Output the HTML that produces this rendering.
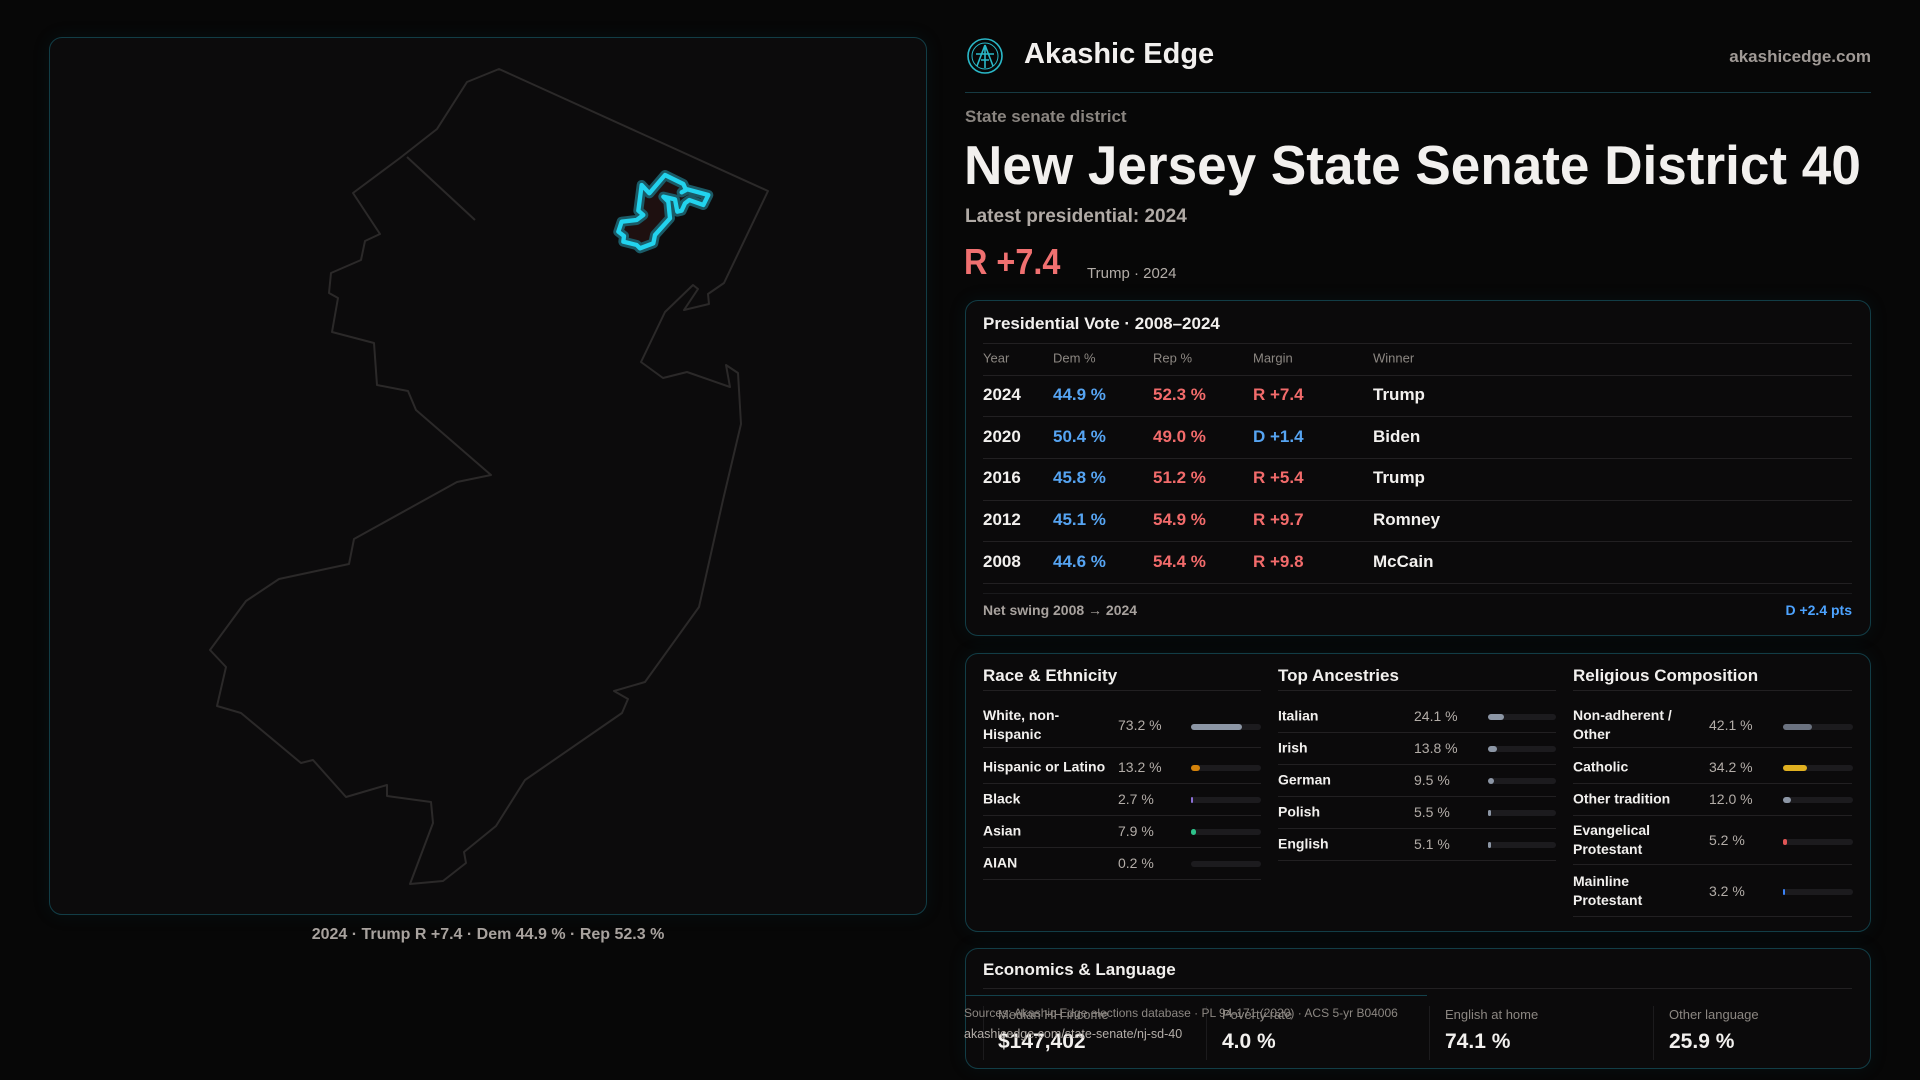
<!DOCTYPE html>
<html><head><meta charset="utf-8"><style>
*{margin:0;padding:0;box-sizing:border-box}
body{width:1920px;height:1080px;background:#070707;font-family:"Liberation Sans",sans-serif;color:#f2f0ee;position:relative;overflow:hidden}
.a{position:absolute;white-space:nowrap}
.card{position:absolute;border:1px solid #123d46;border-radius:13px;background:#0b0a0b;box-shadow:0 0 18px rgba(20,90,110,0.12)}
.hl{position:absolute;height:1px;background:#222022}
.t{font-size:17px;font-weight:bold;transform:translateY(-50%)}
.h{font-size:13px;color:#8c8782;transform:translateY(-50%)}
.r{font-size:17px;font-weight:bold;transform:translateY(-50%)}
.blue{color:#56a4f2}.red{color:#f26b6b}
.lab{font-size:14px;font-weight:bold;color:#f2f0ee;line-height:19px;transform:translateY(-50%)}
.val{font-size:14px;color:#b3ada8;transform:translateY(-50%)}
.trk{position:absolute;height:6px;border-radius:3px;background:#1c1b1e;transform:translateY(-50%)}
.trk i{position:absolute;left:0;top:0;height:6px;border-radius:3px}
</style></head><body>

<div class="card" style="left:49px;top:37px;width:878px;height:878px;background:#0c0b0c"></div>
<svg class="a" style="left:0;top:0" width="1920" height="1080" viewBox="0 0 1920 1080">
<polygon fill="none" stroke="#2b2929" stroke-width="2" stroke-linejoin="round" points="499,69 467,82 437,129 400,158 353,193 380,234 365,241 361,260 331,273 329,293 338,298 332,332 374,343 377,385 408,391 416,410 491,475 457,482 354,539 349,564 279,579 246,601 210,650 226,667 217,706 241,713 301,763 313,760 346,797 387,785 387,796 431,802 433,823 410,884 443,881 466,863 464,852 496,826 525,780 622,713 628,699 614,691 645,682 699,607 723,500 741,424 738,373 726,365 730,387 687,372 663,378 641,362 665,312 693,285 698,289 684,310 709,304 708,294 724,283 768,191"/>
<line x1="407" y1="157" x2="475" y2="220" stroke="#2b2929" stroke-width="2"/>
<g transform="translate(600,150) scale(0.3333)">
<polygon fill="#1e1010" stroke="#1b5a66" stroke-width="30" stroke-linejoin="round" points="195,75 250,102 258,120 245,127 262,118 325,135 310,165 268,150 255,160 245,182 232,185 225,148 190,140 205,155 210,205 165,255 160,280 120,295 110,285 70,275 72,258 55,245 65,215 110,210 130,195 115,182 125,105 148,130"/>
<polygon fill="none" stroke="#22d3ee" stroke-width="13" stroke-linejoin="round" points="195,75 250,102 258,120 245,127 262,118 325,135 310,165 268,150 255,160 245,182 232,185 225,148 190,140 205,155 210,205 165,255 160,280 120,295 110,285 70,275 72,258 55,245 65,215 110,210 130,195 115,182 125,105 148,130"/>
</g>
<g transform="translate(985,56)" fill="none" stroke="#2ab8c8" stroke-width="1.6">
<circle r="17"/><circle r="13" stroke-width="1"/><path d="M0,-11 L-8,10 M0,-11 L8,10 M-9,-2 L9,-2 M0,-11 L0,12 M-4,4 L4,4"/>
</g>
</svg>
<div class="a" style="left:0;width:976px;top:926px;text-align:center;font-size:16px;font-weight:bold;color:#a8a29e">2024 · Trump R +7.4 · Dem 44.9 % · Rep 52.3 %</div>

<div class="a" style="left:1024px;top:38px;font-size:29px;font-weight:bold">Akashic Edge</div>
<div class="a" style="right:49px;top:47px;font-size:17px;font-weight:bold;color:#a09a96">akashicedge.com</div>
<div class="hl" style="left:965px;width:906px;top:92px;background:#163a42"></div>
<div class="a" style="left:965px;top:107px;font-size:17px;font-weight:bold;color:#8a8580">State senate district</div>
<div class="a" style="left:964px;top:133px;font-size:55px;font-weight:bold;transform:scaleX(0.965);transform-origin:left top">New Jersey State Senate District 40</div>
<div class="a" style="left:965px;top:206px;font-size:19px;font-weight:bold;color:#b0aaa5">Latest presidential: 2024</div>
<div class="a" style="left:964px;top:241px;font-size:36px;font-weight:bold;color:#f07070;transform:scaleX(0.9);transform-origin:left top">R +7.4</div>
<div class="a" style="left:1087px;top:265px;font-size:15px;color:#b3ada8">Trump · 2024</div>

<div class="card" style="left:965px;top:300px;width:906px;height:336px"></div>
<div class="a t" style="left:983px;top:324px">Presidential Vote · 2008–2024</div>
<div class="hl" style="left:983px;width:869px;top:343px"></div>
<div class="a h" style="left:983px;top:358px">Year</div><div class="a h" style="left:1053px;top:358px">Dem %</div><div class="a h" style="left:1153px;top:358px">Rep %</div><div class="a h" style="left:1253px;top:358px">Margin</div><div class="a h" style="left:1373px;top:358px">Winner</div>
<div class="hl" style="left:983px;width:869px;top:375px"></div>
<div class="a r" style="left:983px;top:395px">2024</div><div class="a r blue" style="left:1053px;top:395px">44.9 %</div><div class="a r red" style="left:1153px;top:395px">52.3 %</div><div class="a r red" style="left:1253px;top:395px">R +7.4</div><div class="a r" style="left:1373px;top:395px">Trump</div>
<div class="hl" style="left:983px;width:869px;top:416px"></div>
<div class="a r" style="left:983px;top:437px">2020</div><div class="a r blue" style="left:1053px;top:437px">50.4 %</div><div class="a r red" style="left:1153px;top:437px">49.0 %</div><div class="a r blue" style="left:1253px;top:437px">D +1.4</div><div class="a r" style="left:1373px;top:437px">Biden</div>
<div class="hl" style="left:983px;width:869px;top:458px"></div>
<div class="a r" style="left:983px;top:478px">2016</div><div class="a r blue" style="left:1053px;top:478px">45.8 %</div><div class="a r red" style="left:1153px;top:478px">51.2 %</div><div class="a r red" style="left:1253px;top:478px">R +5.4</div><div class="a r" style="left:1373px;top:478px">Trump</div>
<div class="hl" style="left:983px;width:869px;top:500px"></div>
<div class="a r" style="left:983px;top:520px">2012</div><div class="a r blue" style="left:1053px;top:520px">45.1 %</div><div class="a r red" style="left:1153px;top:520px">54.9 %</div><div class="a r red" style="left:1253px;top:520px">R +9.7</div><div class="a r" style="left:1373px;top:520px">Romney</div>
<div class="hl" style="left:983px;width:869px;top:541px"></div>
<div class="a r" style="left:983px;top:562px">2008</div><div class="a r blue" style="left:1053px;top:562px">44.6 %</div><div class="a r red" style="left:1153px;top:562px">54.4 %</div><div class="a r red" style="left:1253px;top:562px">R +9.8</div><div class="a r" style="left:1373px;top:562px">McCain</div>
<div class="hl" style="left:983px;width:869px;top:583px"></div>
<div class="hl" style="left:983px;width:869px;top:593px;background:#1a1a1c"></div>
<div class="a" style="left:983px;top:602px;font-size:14px;font-weight:bold;color:#a8a29e">Net swing 2008 → 2024</div>
<div class="a" style="right:68px;top:602px;font-size:14px;font-weight:bold;color:#4da3ff">D +2.4 pts</div>

<div class="card" style="left:965px;top:653px;width:906px;height:279px"></div>
<div class="a t" style="left:983px;top:676px">Race &amp; Ethnicity</div>
<div class="a t" style="left:1278px;top:676px">Top Ancestries</div>
<div class="a t" style="left:1573px;top:676px">Religious Composition</div>
<div class="hl" style="left:983px;width:278px;top:690px"></div>
<div class="hl" style="left:1278px;width:278px;top:690px"></div>
<div class="hl" style="left:1573px;width:279px;top:690px"></div>

<div class="a lab" style="left:983px;top:725px">White, non-<br>Hispanic</div><div class="a val" style="left:1118px;top:725px">73.2 %</div><div class="trk" style="left:1191px;width:70px;top:727px"><i style="width:51px;background:#8c96a5"></i></div>
<div class="hl" style="left:983px;width:278px;top:747px"></div>
<div class="a lab" style="left:983px;top:767px">Hispanic or Latino</div><div class="a val" style="left:1118px;top:767px">13.2 %</div><div class="trk" style="left:1191px;width:70px;top:768px"><i style="width:9px;background:#d4820a"></i></div>
<div class="hl" style="left:983px;width:278px;top:783px"></div>
<div class="a lab" style="left:983px;top:799px">Black</div><div class="a val" style="left:1118px;top:799px">2.7 %</div><div class="trk" style="left:1191px;width:70px;top:800px"><i style="width:2px;background:#8b6fd6"></i></div>
<div class="hl" style="left:983px;width:278px;top:815px"></div>
<div class="a lab" style="left:983px;top:831px">Asian</div><div class="a val" style="left:1118px;top:831px">7.9 %</div><div class="trk" style="left:1191px;width:70px;top:832px"><i style="width:5px;background:#2ec28a"></i></div>
<div class="hl" style="left:983px;width:278px;top:847px"></div>
<div class="a lab" style="left:983px;top:863px">AIAN</div><div class="a val" style="left:1118px;top:863px">0.2 %</div><div class="trk" style="left:1191px;width:70px;top:864px"></div>
<div class="hl" style="left:983px;width:278px;top:879px"></div>

<div class="a lab" style="left:1278px;top:716px">Italian</div><div class="a val" style="left:1414px;top:716px">24.1 %</div><div class="trk" style="left:1488px;width:68px;top:717px"><i style="width:16px;background:#8c96a5"></i></div>
<div class="hl" style="left:1278px;width:278px;top:732px"></div>
<div class="a lab" style="left:1278px;top:748px">Irish</div><div class="a val" style="left:1414px;top:748px">13.8 %</div><div class="trk" style="left:1488px;width:68px;top:749px"><i style="width:9px;background:#8c96a5"></i></div>
<div class="hl" style="left:1278px;width:278px;top:764px"></div>
<div class="a lab" style="left:1278px;top:780px">German</div><div class="a val" style="left:1414px;top:780px">9.5 %</div><div class="trk" style="left:1488px;width:68px;top:781px"><i style="width:6px;background:#8c96a5"></i></div>
<div class="hl" style="left:1278px;width:278px;top:796px"></div>
<div class="a lab" style="left:1278px;top:812px">Polish</div><div class="a val" style="left:1414px;top:812px">5.5 %</div><div class="trk" style="left:1488px;width:68px;top:813px"><i style="width:3px;background:#8c96a5"></i></div>
<div class="hl" style="left:1278px;width:278px;top:828px"></div>
<div class="a lab" style="left:1278px;top:844px">English</div><div class="a val" style="left:1414px;top:844px">5.1 %</div><div class="trk" style="left:1488px;width:68px;top:845px"><i style="width:3px;background:#8c96a5"></i></div>
<div class="hl" style="left:1278px;width:278px;top:860px"></div>

<div class="a lab" style="left:1573px;top:725px">Non-adherent /<br>Other</div><div class="a val" style="left:1709px;top:725px">42.1 %</div><div class="trk" style="left:1783px;width:70px;top:727px"><i style="width:29px;background:#6b7280"></i></div>
<div class="hl" style="left:1573px;width:279px;top:747px"></div>
<div class="a lab" style="left:1573px;top:767px">Catholic</div><div class="a val" style="left:1709px;top:767px">34.2 %</div><div class="trk" style="left:1783px;width:70px;top:768px"><i style="width:24px;background:#e0b020"></i></div>
<div class="hl" style="left:1573px;width:279px;top:783px"></div>
<div class="a lab" style="left:1573px;top:799px">Other tradition</div><div class="a val" style="left:1709px;top:799px">12.0 %</div><div class="trk" style="left:1783px;width:70px;top:800px"><i style="width:8px;background:#8c96a5"></i></div>
<div class="hl" style="left:1573px;width:279px;top:815px"></div>
<div class="a lab" style="left:1573px;top:840px">Evangelical<br>Protestant</div><div class="a val" style="left:1709px;top:840px">5.2 %</div><div class="trk" style="left:1783px;width:70px;top:842px"><i style="width:4px;background:#e05555"></i></div>
<div class="hl" style="left:1573px;width:279px;top:864px"></div>
<div class="a lab" style="left:1573px;top:891px">Mainline<br>Protestant</div><div class="a val" style="left:1709px;top:891px">3.2 %</div><div class="trk" style="left:1783px;width:70px;top:892px"><i style="width:2px;background:#3b82f6"></i></div>
<div class="hl" style="left:1573px;width:279px;top:916px"></div>

<div class="card" style="left:965px;top:948px;width:906px;height:121px"></div>
<div class="a t" style="left:983px;top:970px">Economics &amp; Language</div>
<div class="hl" style="left:983px;width:869px;top:988px"></div>
<div class="hl" style="left:965px;width:462px;top:995px;background:#13414b"></div>
<div class="a" style="left:1206px;top:1006px;width:1px;height:54px;background:#1c1b1d"></div>
<div class="a" style="left:1429px;top:1006px;width:1px;height:54px;background:#1c1b1d"></div>
<div class="a" style="left:1653px;top:1006px;width:1px;height:54px;background:#1c1b1d"></div>
<div class="a" style="left:983px;top:1006px;width:1px;height:54px;background:#1c1b1d"></div>
<div class="a" style="left:998px;top:1007px;font-size:13px;color:#8c8782">Median HH income</div>
<div class="a" style="left:998px;top:1030px;font-size:21px;font-weight:bold">$147,402</div>
<div class="a" style="left:1222px;top:1007px;font-size:13px;color:#8c8782">Poverty rate</div>
<div class="a" style="left:1222px;top:1030px;font-size:21px;font-weight:bold">4.0 %</div>
<div class="a" style="left:1445px;top:1007px;font-size:13px;color:#8c8782">English at home</div>
<div class="a" style="left:1445px;top:1030px;font-size:21px;font-weight:bold">74.1 %</div>
<div class="a" style="left:1669px;top:1007px;font-size:13px;color:#8c8782">Other language</div>
<div class="a" style="left:1669px;top:1030px;font-size:21px;font-weight:bold">25.9 %</div>
<div class="a" style="left:964px;top:1006px;font-size:12px;color:#8c8782">Sources: Akashic Edge elections database · PL 94-171 (2020) · ACS 5-yr B04006</div>
<div class="a" style="left:964px;top:1027px;font-size:12.5px;color:#b3ada8">akashicedge.com/state-senate/nj-sd-40</div>
</body></html>
